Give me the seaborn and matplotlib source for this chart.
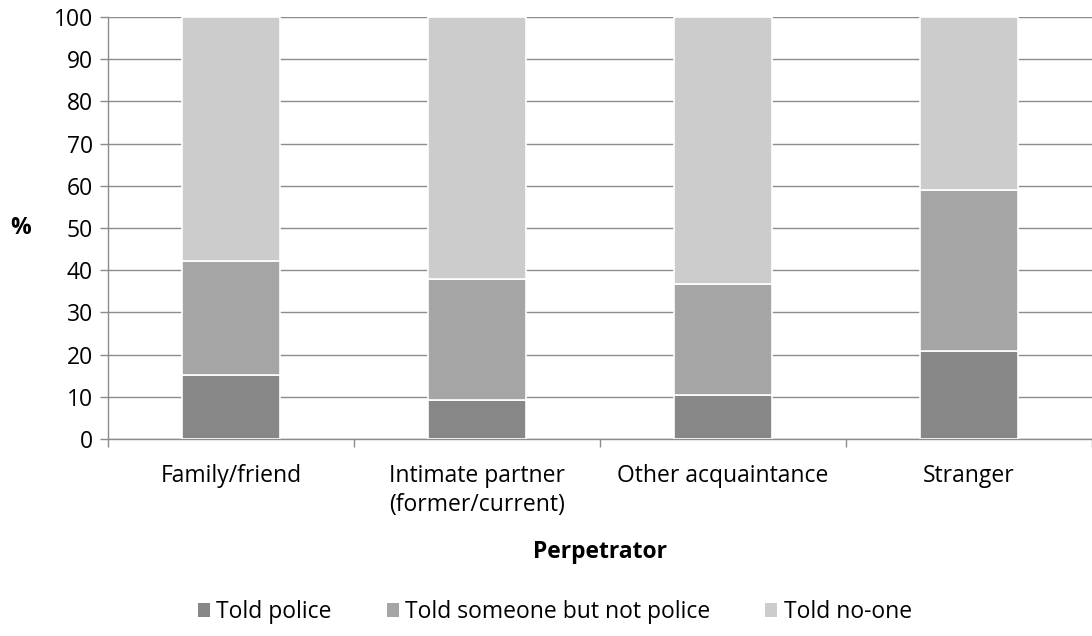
import matplotlib
matplotlib.use("Agg")
import matplotlib.pyplot as plt
import seaborn as sns
import pandas as pd
import numpy as np
from matplotlib.patches import Patch

# data
perpetrators = ["Family/friend", "Intimate partner\n(former/current)", "Other acquaintance", "Stranger"]
told_police = [15.2, 9.2, 10.4, 20.9]
told_someone = [27.0, 28.7, 26.3, 38.1]
told_noone = [57.8, 62.1, 63.3, 41.0]
series_names = ["Told police", "Told someone but not police", "Told no-one"]
series_colors = ["#878787", "#a5a5a5", "#cccccc"]

sns.set_theme(style="white")
plt.rcParams["font.family"] = ["Open Sans", "DejaVu Sans"]
plt.rcParams["text.color"] = "black"
plt.rcParams["axes.labelcolor"] = "black"
grid_col = "#8c8c8c"
fs = 16.5

df = pd.DataFrame({
    "perpetrator": perpetrators,
    series_names[0]: told_police,
    series_names[1]: told_someone,
    series_names[2]: told_noone,
})

fig = plt.figure(figsize=(10.92, 6.36), dpi=100)
ax = fig.add_axes([108 / 1092, 1 - 439 / 636, 984 / 1092, 422 / 636])

bottom = np.zeros(len(df))
for name, col in zip(series_names, series_colors):
    sns.barplot(data=df, x="perpetrator", y=name, color=col, width=0.4,
                bottom=bottom, edgecolor="white", linewidth=1.2, ax=ax,
                saturation=1, zorder=3)
    bottom = bottom + df[name].values

ax.set_xlim(-0.5, len(df) - 0.5)
ax.set_ylim(0, 100)
ax.set_yticks(range(0, 101, 10))
ax.yaxis.grid(True, color=grid_col, linewidth=1)
ax.set_axisbelow(True)

for s in ["top", "right"]:
    ax.spines[s].set_visible(False)
for s in ["left", "bottom"]:
    ax.spines[s].set_color(grid_col)
    ax.spines[s].set_linewidth(1)

ax.tick_params(axis="y", which="both", left=True, length=6, width=1,
               color=grid_col, labelsize=fs, pad=5, labelcolor="black")
# category separators as ticks on x axis
ax.set_xticks(np.arange(-0.5, len(df), 1.0), minor=True)
ax.tick_params(axis="x", which="minor", bottom=True, length=6, width=1, color=grid_col)
ax.tick_params(axis="x", which="major", bottom=False, labelsize=fs, pad=12, labelcolor="black")
ax.set_xticks(range(len(df)))
ax.set_xticklabels(perpetrators, linespacing=1.3)

ax.set_xlabel("Perpetrator", fontsize=fs, fontweight="bold", labelpad=16)
ax.set_ylabel("%", fontsize=fs, fontweight="bold", rotation=0, labelpad=24, va="center")

handles = [Patch(facecolor=c, edgecolor="none") for c in series_colors]
fig.legend(handles, series_names, loc="center", bbox_to_anchor=(555 / 1092, 1 - 612 / 636),
           ncol=3, frameon=False, fontsize=fs, handlelength=0.52, handleheight=0.52,
           handletextpad=0.28, columnspacing=2.4)

fig.savefig("out.png", dpi=100)
